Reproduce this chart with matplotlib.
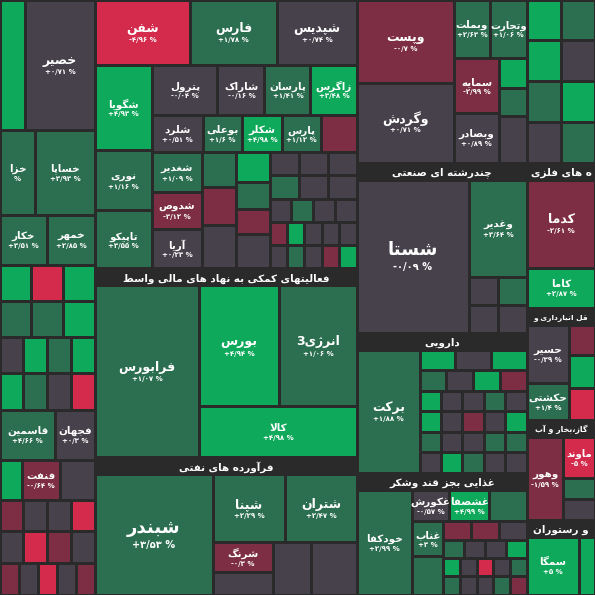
import matplotlib
matplotlib.use("Agg")
import matplotlib.pyplot as plt
from matplotlib.patches import Rectangle

plt.rcParams['font.family'] = ['DejaVu Sans', 'Noto Sans']

COLORS = {'G': '#0fa95b', 'M': '#2b6e50', 'K': '#47414b', 'R': '#d42a4b', 'D': '#7d2e44'}
BG = '#2a2a2a'

# ---------- minimal Arabic/Persian shaping ----------
F = {
 'ا': ('\uFE8D', '\uFE8E', None, None), 'آ': ('\uFE81', '\uFE82', None, None),
 'ب': ('\uFE8F', '\uFE90', '\uFE91', '\uFE92'), 'پ': ('\uFB56', '\uFB57', '\uFB58', '\uFB59'),
 'ت': ('\uFE95', '\uFE96', '\uFE97', '\uFE98'), 'ث': ('\uFE99', '\uFE9A', '\uFE9B', '\uFE9C'),
 'ج': ('\uFE9D', '\uFE9E', '\uFE9F', '\uFEA0'), 'چ': ('\uFB7A', '\uFB7B', '\uFB7C', '\uFB7D'),
 'ح': ('\uFEA1', '\uFEA2', '\uFEA3', '\uFEA4'), 'خ': ('\uFEA5', '\uFEA6', '\uFEA7', '\uFEA8'),
 'د': ('\uFEA9', '\uFEAA', None, None), 'ذ': ('\uFEAB', '\uFEAC', None, None),
 'ر': ('\uFEAD', '\uFEAE', None, None), 'ز': ('\uFEAF', '\uFEB0', None, None),
 'ژ': ('\uFB8A', '\uFB8B', None, None),
 'س': ('\uFEB1', '\uFEB2', '\uFEB3', '\uFEB4'), 'ش': ('\uFEB5', '\uFEB6', '\uFEB7', '\uFEB8'),
 'ص': ('\uFEB9', '\uFEBA', '\uFEBB', '\uFEBC'), 'ض': ('\uFEBD', '\uFEBE', '\uFEBF', '\uFEC0'),
 'ط': ('\uFEC1', '\uFEC2', '\uFEC3', '\uFEC4'), 'ظ': ('\uFEC5', '\uFEC6', '\uFEC7', '\uFEC8'),
 'ع': ('\uFEC9', '\uFECA', '\uFECB', '\uFECC'), 'غ': ('\uFECD', '\uFECE', '\uFECF', '\uFED0'),
 'ف': ('\uFED1', '\uFED2', '\uFED3', '\uFED4'), 'ق': ('\uFED5', '\uFED6', '\uFED7', '\uFED8'),
 'ک': ('\uFB8E', '\uFB8F', '\uFB90', '\uFB91'), 'گ': ('\uFB92', '\uFB93', '\uFB94', '\uFB95'),
 'ل': ('\uFEDD', '\uFEDE', '\uFEDF', '\uFEE0'), 'م': ('\uFEE1', '\uFEE2', '\uFEE3', '\uFEE4'),
 'ن': ('\uFEE5', '\uFEE6', '\uFEE7', '\uFEE8'), 'و': ('\uFEED', '\uFEEE', None, None),
 'ه': ('\uFEE9', '\uFEEA', '\uFEEB', '\uFEEC'), 'ی': ('\uFBFC', '\uFBFD', '\uFBFE', '\uFBFF'),
 'ئ': ('\uFE89', '\uFE8A', '\uFE8B', '\uFE8C'),
}

def shape(s):
    out = []
    i = 0
    n = len(s)
    while i < n:
        c = s[i]
        prev = s[i-1] if i > 0 else ''
        jp = c in F and prev in F and F[prev][2] is not None
        if c == 'ل' and i + 1 < n and s[i+1] == 'ا':
            out.append('\uFEFC' if jp else '\uFEFB')
            i += 2
            continue
        if c not in F:
            out.append(c); i += 1; continue
        nxt = s[i+1] if i + 1 < n else ''
        jn = F[c][2] is not None and nxt in F
        iso, fin, ini, med = F[c]
        if jp and jn: out.append(med)
        elif jp: out.append(fin)
        elif jn: out.append(ini)
        else: out.append(iso)
        i += 1
    return ''.join(out)[::-1]

# ---------- data (treemap hierarchy; weights = relative extents) ----------
def L(w, c, n='', p=''): return ('L', w, c, n, p)
def H(w, ch): return ('H', w, ch)
def V(w, ch): return ('V', w, ch)
def S(w, t, ch): return ('S', w, t, ch)
def Gd(w, rows): return ('G', w, rows)

col_a = V(95, [
    H(130, [L(25, 'G'), L(70, 'K', 'خصیر', '+۰/۷۱ %')]),
    V(135, [H(85, [L(35, 'M', 'خزا', '%'), L(60, 'M', 'خساپا', '+۳/۹۳ %')]),
            H(50, [L(47, 'M', 'خکار', '+۳/۵۱ %'), L(48, 'M', 'خمهر', '+۲/۸۵ %')])]),
    Gd(145, ['GRG', 'MMG', 'KGMG', 'GMKR']),
    H(50, [L(55, 'M', 'قاسمین', '+۴/۶۶ %'), L(40, 'K', 'فجهان', '+۰/۳ %')]),
    H(40, [L(22, 'G'), L(38, 'D', 'فنفت', '-۰/۶۴ %'), L(35, 'K')]),
    Gd(95, ['DKKR', 'KRDK', 'DKRKD']),
])

col_b = V(262, [
    H(65, [L(95, 'R', 'شفن', '-۴/۹۶ %'), L(87, 'M', 'فارس', '+۱/۷۸ %'), L(80, 'K', 'شپدیس', '+۰/۷۴ %')]),
    H(203, [
        V(57, [L(85, 'G', 'شگویا', '+۴/۹۳ %'), L(60, 'M', 'نوری', '+۱/۱۶ %'), L(58, 'M', 'تاپیکو', '+۳/۵۵ %')]),
        V(205, [
            H(50, [L(63, 'K', 'پترول', '-۰/۰۴ %'), L(45, 'K', 'شاراک', '-۰/۱۶ %'), L(44, 'M', 'پارسان', '+۱/۴۱ %'), L(44, 'G', 'زاگرس', '+۳/۴۸ %')]),
            H(37, [L(50, 'K', 'شلرد', '+۰/۵۱ %'), L(38, 'M', 'بوعلی', '+۱/۶ %'), L(39, 'G', 'شکلر', '+۴/۹۸ %'), L(38, 'M', 'پارس', '+۱/۱۲ %'), L(35, 'D')]),
            H(116, [
                V(50, [L(40, 'M', 'شغدیر', '+۱/۰۹ %'), L(37, 'D', 'شدوص', '-۳/۱۲ %'), L(39, 'K', 'آریا', '+۰/۲۳ %')]),
                V(34, [L(35, 'M'), L(38, 'D'), L(43, 'K')]),
                V(34, [L(30, 'G'), L(27, 'M'), L(25, 'D'), L(34, 'K')]),
                Gd(87, ['KKK', 'MKK', 'KMKK', 'DGKKK', 'KMKDG']),
            ]),
        ]),
    ]),
    S(188, 'فعالیتهای کمکی به نهاد های مالی واسط', H(262, [
        L(104, 'M', 'فرابورس', '+۱/۰۷ %'),
        V(158, [H(112, [L(80, 'G', 'بورس', '+۴/۹۴ %'), L(78, 'M', 'انرژی3', '+۱/۰۶ %')]),
                L(47, 'G', 'کالا', '+۴/۹۸ %')]),
    ])),
    S(137, 'فرآورده های نفتی', H(262, [
        L(118, 'M', 'شبندر', '+۳/۵۳ %'),
        V(144, [H(68, [L(72, 'M', 'شپنا', '+۲/۲۹ %'), L(72, 'M', 'شتران', '+۲/۴۷ %')]),
                H(52, [V(60, [L(30, 'D', 'شرنگ', '-۰/۳ %'), L(22, 'K', 'شبریز', '')]), L(38, 'K'), L(46, 'K')])]),
    ])),
])

col_c = V(170, [
    H(163, [
        V(97, [L(83, 'D', 'وپست', '-۰/۷ %'), L(80, 'K', 'وگردش', '+۰/۷۱ %')]),
        V(73, [
            H(58, [L(36, 'M', 'وبملت', '+۲/۶۳ %'), L(37, 'M', 'وتجارت', '+۱/۰۶ %')]),
            H(105, [V(45, [L(55, 'D', 'سمایه', '-۲/۹۹ %'), L(50, 'K', 'وبصادر', '+۰/۸۹ %')]),
                    V(28, [L(30, 'G'), L(28, 'M'), L(47, 'K')])]),
        ]),
    ]),
    S(170, 'چندرشته ای صنعتی', H(170, [
        L(112, 'K', 'شستا', '-۰/۰۹ %'),
        V(58, [L(97, 'M', 'وغدیر', '+۳/۶۴ %'), Gd(56, ['KM', 'KK'])]),
    ])),
    S(140, 'دارویی', H(170, [
        L(63, 'M', 'برکت', '+۱/۸۸ %'),
        Gd(107, ['GKG', 'MKGD', 'GKKMK', 'GKDKG', 'MKKMM', 'KGMKK']),
    ])),
    S(122, 'غذایی بجز قند وشکر', H(170, [
        L(55, 'M', 'خودکفا', '+۲/۹۹ %'),
        V(115, [H(37, [L(35, 'K', 'غکورش', '-۰/۵۷ %'), L(38, 'G', 'غشصفا', '+۴/۹۹ %'), L(35, 'M')]),
                H(85, [V(30, [L(40, 'M', 'غناب', '+۳ %'), L(45, 'M')]),
                       Gd(78, ['DDK', 'MKKG', 'GKRKM', 'MKKMD'])])]),
    ])),
])

col_d = V(68, [
    Gd(163, ['GM', 'GK', 'MG', 'KM']),
    S(145, 'ه های فلزی', V(68, [L(88, 'D', 'کدما', '-۲/۶۱ %'), L(40, 'G', 'کاما', '+۲/۸۷ %')])),
    S(112, 'قل انبارداری و', H(68, [V(42, [L(58, 'K', 'حسیر', '-۰/۳۹ %'), L(37, 'M', 'حکشتی', '+۱/۴ %')]),
                                      V(26, [L(30, 'D', 'وردش', '-۲/۹۹'), L(33, 'G'), L(32, 'R')])])),
    S(100, 'گاز،بخار و آب', H(68, [L(36, 'D', 'وهور', '-۱/۵۹ %'), V(32, [L(40, 'R', 'ماوند', '-۵ %'), L(20, 'M'), L(20, 'K')])])),
    S(75, 'و رستوران', H(68, [L(52, 'G', 'سمگا', '+۵ %'), L(16, 'G')])),
])

root = H(595, [col_a, col_b, col_c, col_d])

# ---------- drawing ----------
fig = plt.figure(figsize=(5.95, 5.95), dpi=100)
ax = fig.add_axes([0, 0, 1, 1])
ax.set_xlim(0, 595)
ax.set_ylim(595, 0)
ax.axis('off')
fig.patch.set_facecolor(BG)
GAP = 1.5
HDR = 17

def draw_leaf(x, y, w, h, c, n, p):
    ax.add_patch(Rectangle((x + GAP, y + GAP), w - 2 * GAP, h - 2 * GAP, facecolor=COLORS[c], edgecolor='none'))
    if n and w > 26 and h > 24:
        big = min(w, h)
        fs = 13 if big > 108 else (9 if big > 60 else 7.5)
        fs = max(5.5, min(fs, (w - 6) / (0.72 * len(n))))
        cx, cy = x + w / 2, y + h / 2
        off = fs * 0.9
        ax.text(cx, cy - off * 0.55, shape(n), color='white', fontsize=fs, fontweight='bold',
                ha='center', va='center', clip_on=True)
        if p:
            ax.text(cx, cy + off * 0.9, p, color='white', fontsize=max(fs * 0.55, 5), fontweight='bold',
                    ha='center', va='center', clip_on=True)

def layout(node, x, y, w, h):
    kind = node[0]
    if kind == 'L':
        _, _, c, n, p = node
        draw_leaf(x, y, w, h, c, n, p)
    elif kind in ('H', 'V'):
        ch = node[2]
        tot = sum(k[1] for k in ch)
        pos = x if kind == 'H' else y
        for k in ch:
            if kind == 'H':
                ww = w * k[1] / tot
                layout(k, pos, y, ww, h); pos += ww
            else:
                hh = h * k[1] / tot
                layout(k, x, pos, w, hh); pos += hh
    elif kind == 'S':
        _, _, t, ch = node
        fs = min(7.5, (w - 4) / (0.85 * len(t)))
        ax.text(x + w / 2, y + HDR / 2 + 1, shape(t), color='white', fontsize=fs, fontweight='bold',
                ha='center', va='center', clip_on=True)
        layout(ch, x, y + HDR, w, h - HDR)
    elif kind == 'G':
        rows = node[2]
        rh = h / len(rows)
        for i, r in enumerate(rows):
            cw = w / len(r)
            for j, c in enumerate(r):
                draw_leaf(x + j * cw, y + i * rh, cw, rh, c, '', '')

layout(root, 0, 0, 595, 595)
fig.savefig('out.png', dpi=100, facecolor=BG)
